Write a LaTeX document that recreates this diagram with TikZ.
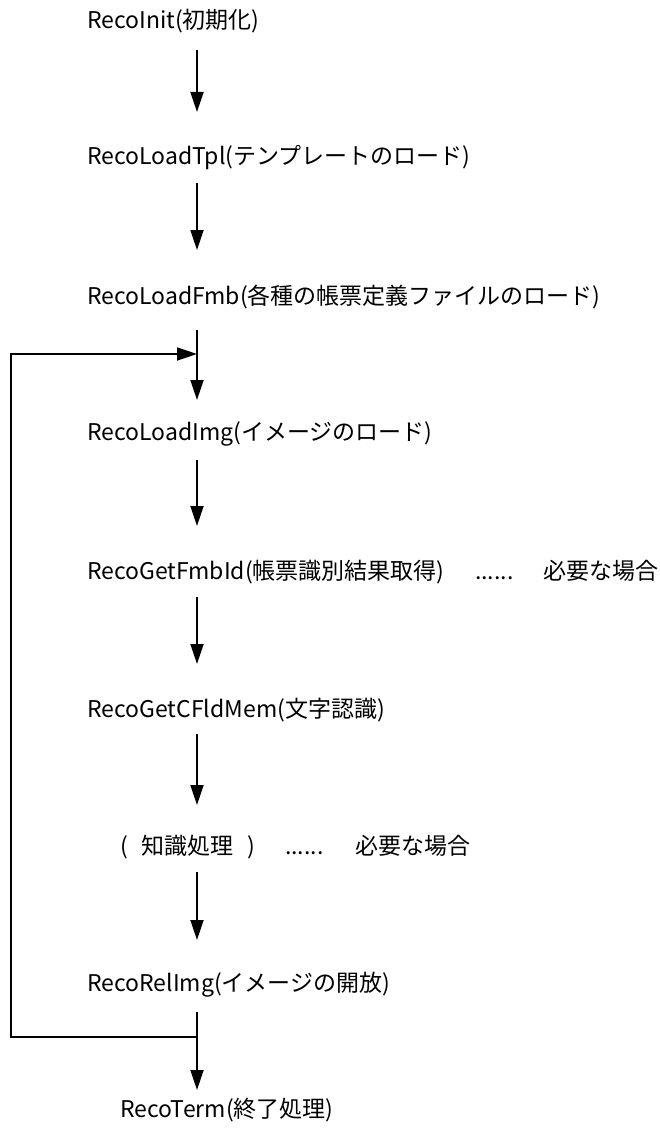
\documentclass[tikz,border=0pt]{standalone}
\usepackage{fontspec}
\setmainfont{Noto Sans CJK JP}
\usetikzlibrary{arrows.meta,calc}
\begin{document}
\begin{tikzpicture}[x=1pt,y=-1pt,
  lbl/.style={anchor=west,inner sep=0pt,font=\fontsize{23pt}{27pt}\selectfont},
  conn/.style={line width=1.8pt,-{Triangle[length=20pt,width=13pt]}},
  plain/.style={line width=1.8pt}]
\useasboundingbox (0,0) rectangle (659,1129);
\coordinate (ax) at (197,0);
\coordinate (cl) at (11,0);
\node[lbl] (t1) at (87,21) {RecoInit(初期化)};
\node[lbl] (t2) at (87,158) {RecoLoadTpl(テンプレートのロード)};
\node[lbl] (t3) at (87,297) {RecoLoadFmb(各種の帳票定義ファイルのロード)};
\node[lbl] (t4) at (87,434) {RecoLoadImg(イメージのロード)};
\node[lbl] (t5) at (87,572) {\makebox[388pt][l]{RecoGetFmbId(帳票識別結果取得)}\makebox[68pt][l]{......}必要な場合};
\node[lbl] (t6) at (87,710) {RecoGetCFldMem(文字認識)};
\node[lbl] (t7) at (120,847) {\makebox[165pt][l]{(\hspace{14pt}知識処理\hspace{14pt})}\makebox[70pt][l]{......}必要な場合};
\node[lbl] (t8) at (87,985) {RecoRelImg(イメージの開放)};
\node[lbl] (t9) at (120,1110) {RecoTerm(終了処理)};
\draw[conn] ($(t1.center -| ax)+(0,29)$) -- ($(t2.center -| ax)+(0,-46)$);
\draw[conn] ($(t2.center -| ax)+(0,25)$) -- ($(t3.center -| ax)+(0,-47)$);
\draw[conn] ($(t3.center -| ax)+(0,33)$) -- ($(t4.center -| ax)+(0,-34)$);
\draw[conn] ($(t4.center -| ax)+(0,26)$) -- ($(t5.center -| ax)+(0,-46)$);
\draw[conn] ($(t5.center -| ax)+(0,25)$) -- ($(t6.center -| ax)+(0,-46)$);
\draw[conn] ($(t6.center -| ax)+(0,24)$) -- ($(t7.center -| ax)+(0,-42)$);
\draw[conn] ($(t7.center -| ax)+(0,25)$) -- ($(t8.center -| ax)+(0,-45)$);
\draw[conn] ($(t8.center -| ax)+(0,27)$) -- ($(t9.center -| ax)+(0,-20)$);
\coordinate (j1) at ($(t3.center -| ax)+(0,57)$);
\coordinate (j2) at ($(t8.center -| ax)+(0,52)$);
\draw[conn] (j2) -| (cl |- j1) -- (j1);
\end{tikzpicture}
\end{document}
